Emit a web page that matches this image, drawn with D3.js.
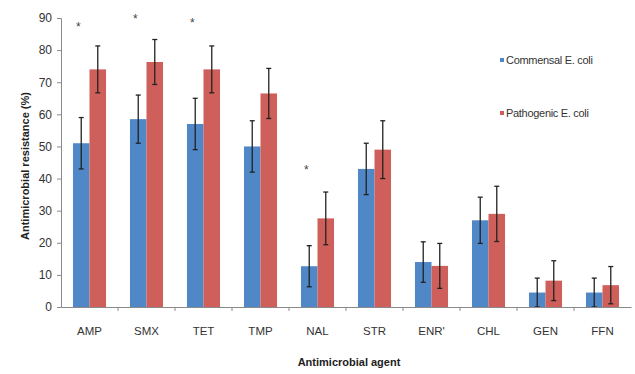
<!DOCTYPE html>
<html>
<head>
<meta charset="utf-8">
<script src="https://cdn.jsdelivr.net/npm/d3@7"></script>
<style>
  body { margin: 0; background: #fff; }
  text { font-family: "Liberation Sans", Arial, sans-serif; }
</style>
</head>
<body>
<div id="chart"></div>
<script>
var agents = ["AMP", "SMX", "TET", "TMP", "NAL", "STR", "ENR'", "CHL", "GEN", "FFN"];
var seriesNames = ["Commensal E. coli", "Pathogenic E. coli"];
var commensal = [51, 58.5, 57, 50, 12.7, 43, 14, 27, 4.5, 4.5];
var commensalErr = [8, 7.5, 8, 8, 6.4, 8, 6.3, 7.2, 4.5, 4.5];
var pathogenic = [74, 76.3, 74, 66.5, 27.6, 49, 12.8, 29, 8.2, 6.8];
var pathogenicErr = [7.3, 7, 7.3, 7.8, 8.2, 9, 7, 8.6, 6.2, 5.8];
var sigAgents = ["AMP", "SMX", "TET", "NAL"];
var sigY = [87.5, 90, 88.8, 43];
var yTicks = [0, 10, 20, 30, 40, 50, 60, 70, 80, 90];

var colors = ["#4f87c7", "#cf5f5a"];

var margin = {top: 18, right: 4, bottom: 67, left: 61},
    width = 635 - margin.left - margin.right,
    height = 374 - margin.top - margin.bottom;

var svg = d3.select("#chart").append("svg")
  .attr("width", 635)
  .attr("height", 374)
  .append("g")
  .attr("transform", `translate(${margin.left},${margin.top})`);

var x = d3.scaleBand().domain(agents).range([0, width]).paddingInner(0.42).paddingOuter(0.21);
var x0 = d3.scaleBand().domain(agents).range([0, width]);
var xs = d3.scaleBand().domain([0, 1]).range([0, x.bandwidth()]);
var y = d3.scaleLinear().domain([0, 90]).range([height, 0]);

// y axis
var yAxis = svg.append("g")
  .call(d3.axisLeft(y).tickValues(yTicks).tickSize(4).tickPadding(5));
yAxis.select(".domain").attr("stroke", "#8a8a8a");
yAxis.selectAll(".tick line").attr("stroke", "#8a8a8a");
yAxis.selectAll(".tick text").style("font-size", "12px").attr("fill", "#333");

// bars
var rows = agents.map(function (a, i) {
  return [
    {agent: a, s: 0, v: commensal[i], e: commensalErr[i]},
    {agent: a, s: 1, v: pathogenic[i], e: pathogenicErr[i]}
  ];
});
var groups = svg.selectAll(".grp").data(rows).enter().append("g")
  .attr("transform", d => `translate(${x(d[0].agent)},0)`);

groups.selectAll("rect").data(d => d).enter().append("rect")
  .attr("x", d => xs(d.s))
  .attr("y", d => y(d.v))
  .attr("width", xs.bandwidth())
  .attr("height", d => height - y(d.v))
  .attr("fill", d => colors[d.s]);

// error bars
var eb = groups.selectAll(".err").data(d => d).enter().append("g")
  .attr("transform", d => `translate(${xs(d.s) + xs.bandwidth() / 2},0)`)
  .attr("stroke", "#222").attr("stroke-width", 1.3);
eb.append("line")
  .attr("y1", d => y(Math.max(0, d.v - d.e)))
  .attr("y2", d => y(d.v + d.e));
eb.append("line").attr("x1", -2.5).attr("x2", 2.5)
  .attr("y1", d => y(d.v + d.e)).attr("y2", d => y(d.v + d.e));
eb.append("line").attr("x1", -2.5).attr("x2", 2.5)
  .attr("y1", d => y(Math.max(0, d.v - d.e))).attr("y2", d => y(Math.max(0, d.v - d.e)));

// x axis
var xAxis = svg.append("g")
  .attr("transform", `translate(0,${height})`)
  .call(d3.axisBottom(x0).tickSize(0).tickPadding(20).tickSizeOuter(0));
xAxis.select(".domain").attr("stroke", "#8a8a8a");
xAxis.selectAll(".tick text").style("font-size", "11.5px").attr("fill", "#333");
svg.append("g").selectAll("line").data(agents.slice(1)).enter().append("line")
  .attr("x1", d => x0(d)).attr("x2", d => x0(d))
  .attr("y1", height).attr("y2", height + 4)
  .attr("stroke", "#8a8a8a");

// significance marks
svg.selectAll(".sig").data(sigAgents).enter().append("text")
  .attr("x", d => x(d) + xs(0) + xs.bandwidth() / 2 - 3)
  .attr("y", (d, i) => y(sigY[i]) + 5)
  .attr("text-anchor", "middle")
  .style("font-size", "12px")
  .attr("fill", "#444")
  .text("*");

// legend
var legend = svg.selectAll(".leg").data(seriesNames).enter().append("g")
  .attr("transform", (d, i) => `translate(${500 - margin.left},${60 - margin.top + i * 53})`);
legend.append("rect").attr("x", 0).attr("y", -2).attr("width", 4).attr("height", 4)
  .attr("fill", (d, i) => colors[i]);
legend.append("text").attr("x", 6).attr("y", 4)
  .style("font-size", "11px").style("letter-spacing", "-0.3px").attr("fill", "#333")
  .text(d => d);

// axis titles
svg.append("text")
  .attr("x", width / 2 + 3)
  .attr("y", height + 59)
  .attr("text-anchor", "middle")
  .style("font-size", "11px").style("font-weight", "bold").attr("fill", "#222")
  .text("Antimicrobial agent");

svg.append("text")
  .attr("transform", "rotate(-90)")
  .attr("x", -(166 - margin.top))
  .attr("y", -margin.left + 29)
  .attr("text-anchor", "middle")
  .style("font-size", "11px").style("font-weight", "bold").attr("fill", "#222")
  .text("Antimicrobial resistance (%)");
</script>
</body>
</html>
